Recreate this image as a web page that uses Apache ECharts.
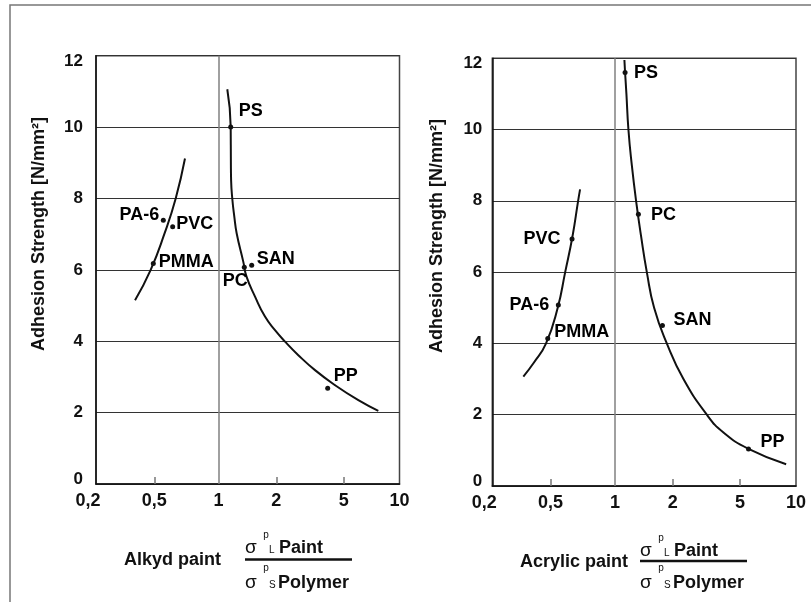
<!DOCTYPE html>
<html>
<head>
<meta charset="utf-8">
<script src="https://cdn.jsdelivr.net/npm/echarts@6.0.0/dist/echarts.min.js"></script>
<style>
  html, body { margin: 0; padding: 0; background: #fff; }
  #chart { width: 811px; height: 602px; }
</style>
</head>
<body>
<div id="chart"></div>
<script>
// x axis is drawn with (nearly) equal spacing between the printed ticks
const xTickLabels = ['0,2', '0,5', '1', '2', '5', '10'];
const xTickPos = [0, 0.96, 2.02, 2.97, 4.08, 5];

// alkyd paint
const alkydNames = ['PS', 'PC', 'SAN', 'PP', 'PA-6', 'PVC', 'PMMA'];
const alkydX = [2.219, 2.443, 2.565, 3.817, 1.109, 1.263, 0.944];
const alkydY = [10.0, 6.07, 6.13, 2.68, 7.39, 7.21, 6.18];
const alkydCurveAX = [0.643, 0.901, 1.125, 1.313, 1.466];
const alkydCurveAY = [5.15, 6.0, 7.0, 8.0, 9.12];
const alkydCurveBX = [2.163, 2.219, 2.222, 2.226, 2.245, 2.278, 2.318, 2.426, 2.48, 2.62, 2.784, 2.949, 3.114, 3.333, 3.608, 3.937, 4.322, 4.651];
const alkydCurveBY = [11.06, 10.0, 9.0, 8.5, 8.0, 7.5, 7.02, 6.23, 5.81, 5.25, 4.69, 4.31, 3.99, 3.61, 3.19, 2.77, 2.35, 2.05];

// acrylic paint
const acrylNames = ['PS', 'PC', 'SAN', 'PP', 'PVC', 'PA-6', 'PMMA'];
const acrylX = [2.186, 2.405, 2.801, 4.218, 1.313, 1.087, 0.913];
const acrylY = [11.6, 7.62, 4.5, 1.04, 6.93, 5.08, 4.14];
const acrylCurveAX = [0.511, 0.68, 0.885, 1.077, 1.2, 1.32, 1.413, 1.445];
const acrylCurveAY = [3.07, 3.45, 4.0, 5.0, 6.0, 7.0, 8.0, 8.32];
const acrylCurveBX = [2.175, 2.186, 2.208, 2.241, 2.297, 2.367, 2.45, 2.544, 2.664, 2.873, 3.147, 3.532, 3.806, 4.218, 4.838];
const acrylCurveBY = [11.95, 11.6, 11.0, 10.0, 9.0, 8.0, 7.0, 6.0, 5.0, 4.0, 3.0, 2.0, 1.5, 1.04, 0.61];

// label placement (pixels from the dot)
const alkydLabelOffset = {
  'PS': [20, -16], 'PA-6': [-24, -5], 'PVC': [22, -3], 'PMMA': [33, -1],
  'SAN': [24, -6], 'PC': [-9, 14], 'PP': [18, -12]
};
const acrylLabelOffset = {
  'PS': [21, 1], 'PC': [25, 1], 'PVC': [-30, 0], 'PA-6': [-29, 0],
  'PMMA': [34, -6], 'SAN': [30, -6], 'PP': [24, -7]
};

const FONT = '"Liberation Sans", Arial, sans-serif';
const INK = '#111';

function curve(xs, ys, gi, extra) {
  return Object.assign({
    type: 'line',
    xAxisIndex: gi, yAxisIndex: gi,
    data: xs.map((x, i) => [x, ys[i]]),
    smooth: 0.5,
    symbol: 'none',
    lineStyle: { color: INK, width: 2 },
    silent: true,
    z: 3
  }, extra || {});
}

function dots(names, xs, ys, gi, offsets) {
  return {
    type: 'scatter',
    xAxisIndex: gi, yAxisIndex: gi,
    symbolSize: 5,
    itemStyle: { color: INK, opacity: 1 },
    silent: true,
    z: 4,
    label: {
      show: true, position: 'inside', formatter: '{b}',
      fontFamily: FONT, fontSize: 18, fontWeight: 'bold', color: '#000',
      textBorderWidth: 0, textBorderColor: 'transparent', opacity: 1
    },
    data: names.map((n, i) => ({ name: n, value: [xs[i], ys[i]], label: { offset: offsets[n] } }))
  };
}

function dividerAtOne() {
  return {
    silent: true,
    symbol: ['none', 'none'],
    label: { show: false },
    lineStyle: { color: '#808080', width: 1.5, type: 'solid' },
    data: [{ xAxis: xTickPos[2] }]
  };
}

function xAxis(gi) {
  return {
    type: 'value', gridIndex: gi, min: 0, max: 5, interval: 1,
    axisLine: { show: true, lineStyle: { color: INK, width: 1.5 } },
    splitLine: { show: false },
    axisTick: {
      show: true, inside: true, length: 7,
      customValues: [xTickPos[1], xTickPos[3], xTickPos[4]],
      lineStyle: { color: '#777', width: 1.5 }
    },
    axisLabel: {
      customValues: xTickPos,
      margin: 8,
      fontFamily: FONT, fontSize: 18, fontWeight: 'bold', color: INK,
      formatter: function (v) {
        let k = 0;
        for (let i = 1; i < xTickPos.length; i++) {
          if (Math.abs(xTickPos[i] - v) < Math.abs(xTickPos[k] - v)) k = i;
        }
        return k === 0 ? '{f|' + xTickLabels[k] + '}' : xTickLabels[k];
      },
      rich: { f: { fontFamily: FONT, fontSize: 18, fontWeight: 'bold', color: INK, padding: [0, 16, 0, 0] } }
    }
  };
}

function yAxis(gi, margin) {
  const rs = { fontFamily: FONT, fontSize: 17, fontWeight: 'bold', color: INK };
  return {
    type: 'value', gridIndex: gi, min: 0, max: 12, interval: 2,
    axisLine: { show: true, lineStyle: { color: INK, width: 1.5 } },
    axisTick: { show: false },
    splitLine: { show: true, lineStyle: { color: '#333', width: 1 } },
    axisLabel: {
      margin: margin,
      fontFamily: FONT, fontSize: 17, fontWeight: 'bold', color: INK,
      formatter: function (v) {
        if (v === 12) return '{t|12}';
        if (v === 0) return '{b|0}';
        return String(v);
      },
      rich: {
        t: Object.assign({ padding: [11, 0, 0, 0] }, rs),
        b: Object.assign({ padding: [0, 0, 9, 0] }, rs)
      }
    }
  };
}

function txt(s, x, y, size, weight, align) {
  return {
    type: 'text', x: x, y: y, silent: true,
    style: {
      text: s, fill: INK, fontFamily: FONT, fontSize: size, fontWeight: weight,
      align: align || 'left', verticalAlign: 'middle'
    }
  };
}

function formula(label, lx, ly, sx, bar, yTop, yBot) {
  return [
    txt(label, lx, ly, 18, 'bold'),
    txt('σ', sx, yTop, 19, 'normal'),
    txt('p', sx + 21, yTop - 13, 10, 'normal', 'center'),
    txt('L', sx + 24, yTop + 2, 10, 'normal'),
    txt('Paint', sx + 34, yTop, 18, 'bold'),
    { type: 'line', silent: true, shape: { x1: sx, y1: bar, x2: sx + 107, y2: bar }, style: { stroke: INK, lineWidth: 2.5 } },
    txt('p', sx + 21, yBot - 15, 10, 'normal', 'center'),
    txt('σ', sx, yBot, 19, 'normal'),
    txt('S', sx + 24, yBot + 2, 10, 'normal'),
    txt('Polymer', sx + 33, yBot, 18, 'bold')
  ];
}

const chart = echarts.init(document.getElementById('chart'), null, { renderer: 'canvas' });

chart.setOption({
  backgroundColor: '#fff',
  animation: false,
  grid: [
    { left: 96, top: 55.7, width: 303.5, height: 428.3, show: true, borderColor: '#444', borderWidth: 1.5, backgroundColor: 'transparent' },
    { left: 492.3, top: 58.2, width: 303.7, height: 427.8, show: true, borderColor: '#444', borderWidth: 1.5, backgroundColor: 'transparent' }
  ],
  xAxis: [xAxis(0), xAxis(1)],
  yAxis: [yAxis(0, 13), yAxis(1, 10)],
  series: [
    curve(alkydCurveAX, alkydCurveAY, 0, { markLine: dividerAtOne() }),
    curve(alkydCurveBX, alkydCurveBY, 0),
    dots(alkydNames, alkydX, alkydY, 0, alkydLabelOffset),
    curve(acrylCurveAX, acrylCurveAY, 1, { markLine: dividerAtOne() }),
    curve(acrylCurveBX, acrylCurveBY, 1),
    dots(acrylNames, acrylX, acrylY, 1, acrylLabelOffset)
  ],
  graphic: [
    { type: 'polyline', silent: true, shape: { points: [[10, 602], [10, 5], [811, 5]] }, style: { stroke: '#777', lineWidth: 1.5, fill: null } },
    {
      type: 'text', x: 39, y: 234, rotation: Math.PI / 2, silent: true,
      style: { text: 'Adhesion Strength [N/mm²]', fill: INK, fontFamily: FONT, fontSize: 18, fontWeight: 'bold', align: 'center', verticalAlign: 'middle' }
    },
    {
      type: 'text', x: 437, y: 236, rotation: Math.PI / 2, silent: true,
      style: { text: 'Adhesion Strength [N/mm²]', fill: INK, fontFamily: FONT, fontSize: 18, fontWeight: 'bold', align: 'center', verticalAlign: 'middle' }
    }
  ].concat(
    formula('Alkyd paint', 124, 560, 245, 559.5, 548, 583),
    formula('Acrylic paint', 520, 562, 640, 561, 551, 583)
  )
});
</script>
</body>
</html>
